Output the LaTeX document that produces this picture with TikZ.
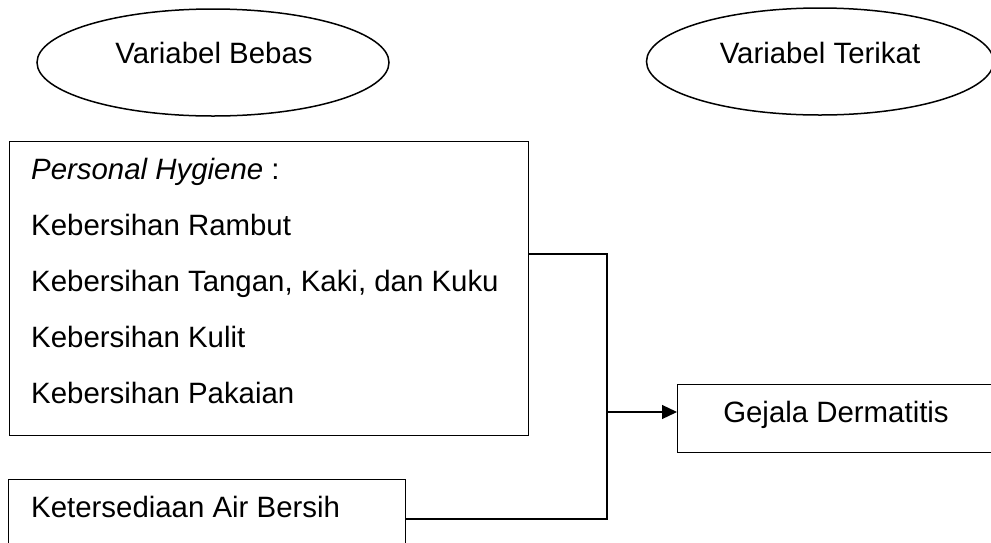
\documentclass[tikz,border=0pt]{standalone}
\usepackage{fontspec}
\setmainfont{Liberation Sans}
\usetikzlibrary{shapes.geometric,arrows.meta}

\tikzset{
  varovaal/.style={draw, ellipse, line width=1.5pt, minimum width=352pt, minimum height=107pt, inner sep=0pt},
  kotak/.style={draw, line width=1.2pt, inner sep=0pt, anchor=north west},
  isi/.style={anchor=base west, inner sep=0pt, font=\fontsize{29.4}{34}\selectfont},
  judul/.style={anchor=base, inner sep=0pt, font=\fontsize{29.4}{34}\selectfont},
  garis/.style={line width=1.2pt},
}

\begin{document}
\begin{tikzpicture}[x=1pt,y=-1pt]
\useasboundingbox (0,0) rectangle (991,542);
\clip (0,0) rectangle (991,542);

% ovals at the top
\node[varovaal] (bebas) at (213,62.5) {};
\node[judul] (tbebas) at (214,63) {Variabel Bebas};
\node[varovaal, minimum width=347pt] (terikat) at (820,61.5) {};
\node[judul] (tterikat) at (820,63) {Variabel Terikat};

% boxes
\node[kotak, minimum width=519pt, minimum height=294pt] (hygiene) at (9,141) {};
\node[isi] (h0) at (31,179) {\textit{Personal Hygiene} :};
\node[isi] (h1) at (31,235) {Kebersihan Rambut};
\node[isi] (h2) at (31,291) {Kebersihan Tangan, Kaki, dan Kuku};
\node[isi] (h3) at (31,347) {Kebersihan Kulit};
\node[isi] (h4) at (31,403) {Kebersihan Pakaian};

\node[kotak, minimum width=397pt, minimum height=120pt] (air) at (8,479) {};
\node[isi] (tair) at (31,517) {Ketersediaan Air Bersih};

\node[kotak, minimum width=340pt, minimum height=68pt] (gejala) at (677,384) {};
\node[judul] (tgejala) at (836,422) {Gejala Dermatitis};

% connectors
\coordinate (j1) at (607,254);
\coordinate (j2) at (607,519);
\coordinate (j3) at (607,412);
\draw[garis] (hygiene.east |- j1) -- (j1) -- (j2) -- (air.east |- j2);
\draw[garis, -{Triangle[length=15pt,width=14pt]}] (j3) -- (gejala.west |- j3);
\end{tikzpicture}
\end{document}
